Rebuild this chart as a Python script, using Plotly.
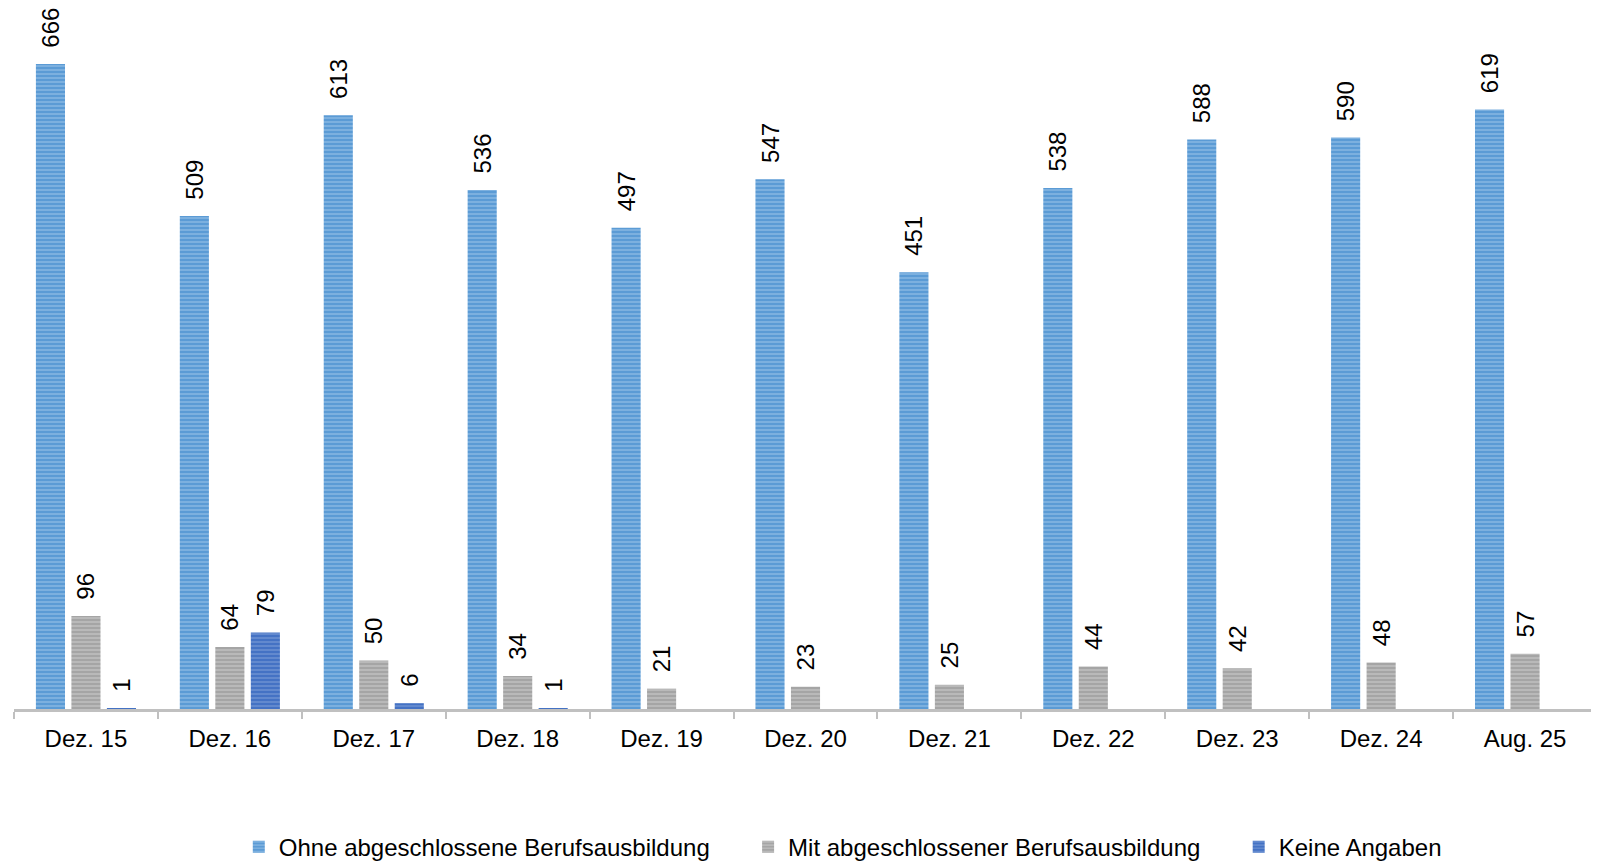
import plotly.graph_objects as go

categories = ["Dez. 15", "Dez. 16", "Dez. 17", "Dez. 18", "Dez. 19", "Dez. 20",
              "Dez. 21", "Dez. 22", "Dez. 23", "Dez. 24", "Aug. 25"]
ohne = [666, 509, 613, 536, 497, 547, 451, 538, 588, 590, 619]
mit = [96, 64, 50, 34, 21, 23, 25, 44, 42, 48, 57]
keine = [1, 79, 6, 1, None, None, None, None, None, None, None]

series = [
    ("Ohne abgeschlossene Berufsausbildung", ohne, "#5B9BD5", "#B4D3EF", 5),
    ("Mit abgeschlossener Berufsausbildung", mit, "#A5A5A5", "#DADADA", 5),
    ("Keine Angaben", keine, "#4472C4", "#94AEE0", 0),
]

FONT = "Liberation Sans, Arial, sans-serif"
NB = "\u00a0"

fig = go.Figure()
for name, vals, bg, fg, pad in series:
    fig.add_trace(go.Bar(
        x=categories, y=vals, name=name + NB * pad,
        marker=dict(color=bg, line=dict(width=0),
                    pattern=dict(shape="-", bgcolor=bg, fgcolor=fg,
                                 size=4, solidity=0.38, fillmode="overlay")),
        text=[("" if v is None else NB * 2 + str(v)) for v in vals],
        textposition="outside", textangle=-90, constraintext="none",
        textfont=dict(family=FONT, size=24, color="#000000"),
        cliponaxis=False,
    ))

fig.update_layout(
    width=1599, height=862,
    margin=dict(l=6, r=10, t=0, b=161, autoexpand=False),
    paper_bgcolor="white", plot_bgcolor="white",
    barmode="group", bargap=0.26, bargroupgap=0.18,
    font=dict(family=FONT, size=24, color="#000000"),
    showlegend=True,
    legend=dict(orientation="h", x=0.1420, xanchor="left", y=-0.197, yanchor="middle",
                font=dict(family=FONT, size=24), itemwidth=30),
)
fig.update_xaxes(
    range=[-0.5, 10.5], automargin=False,
    showline=True, linecolor="#C0C0C0", linewidth=3,
    ticks="outside", tickson="boundaries", ticklen=7, tickcolor="#C0C0C0", tickwidth=2,
    ticklabelstandoff=6,
    tickfont=dict(family=FONT, size=24, color="#000000"),
    showgrid=False, zeroline=False,
)
fig.update_yaxes(visible=False, automargin=False, range=[0, 723.8], showgrid=False, zeroline=False)

fig.write_html("out.html")
